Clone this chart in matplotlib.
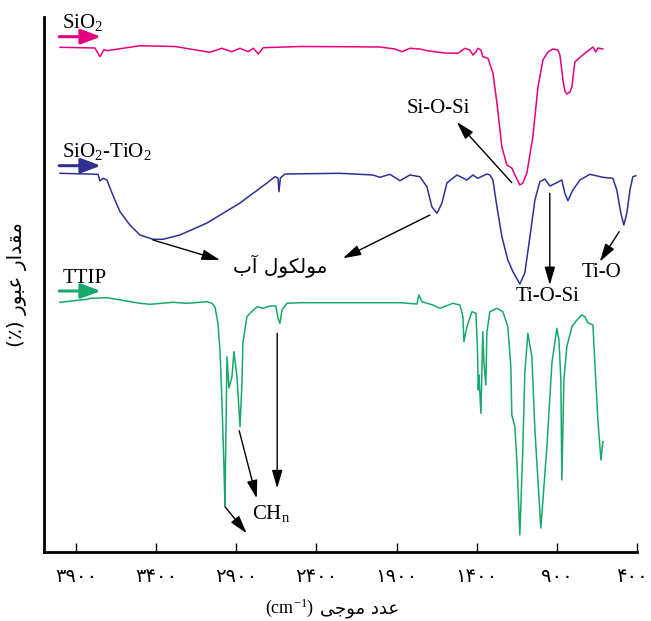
import matplotlib
matplotlib.use("Agg")
import matplotlib.pyplot as plt
import matplotlib.transforms as mtransforms

plt.rcParams['mathtext.fontset'] = 'custom'
plt.rcParams['mathtext.rm'] = 'Liberation Serif'
plt.rcParams['mathtext.it'] = 'Liberation Serif:italic'
plt.rcParams['mathtext.bf'] = 'Liberation Serif:bold'

# ---------------- data (wavenumber cm-1, relative transmittance) ----------------
sio2_wn = [4000, 3782, 3751, 3726, 3707, 3501, 3283, 3064, 2991, 2929, 2877, 2826, 2794, 2763, 2732,
           2503, 2254, 2004, 1910, 1867, 1817, 1755, 1711, 1599, 1517, 1474, 1443, 1424, 1405, 1393,
           1374, 1362, 1330, 1299, 1274, 1243, 1212, 1181, 1162, 1143, 1131, 1112, 1087, 1050, 1018,
           987, 956, 925, 894, 881, 862, 850, 838, 819, 806, 788, 738, 675, 657, 644, 613]
sio2_t = [504.7, 504, 495.3, 502.5, 501.3, 506.3, 505.5, 499.7, 503.7, 500.3, 503.7, 500.3, 503.7, 498, 504.3,
          505.5, 505.3, 505, 503, 500.3, 503.7, 503, 501.3, 499, 498.7, 503.7, 502, 497, 500, 503.7,
          502, 495.3, 493.7, 479, 449, 405, 387, 384, 377, 371, 367, 369, 379, 415, 465,
          492, 500, 503, 502, 497, 472, 461, 458, 460, 465, 490, 497, 505, 500, 504, 503]

mix_wn = [4000, 3763, 3751, 3732, 3707, 3676, 3626, 3564, 3501, 3420, 3358, 3252, 3083, 2877, 2709,
          2659, 2640, 2634, 2625, 2597, 2254, 2048, 2004, 1942, 1879, 1817, 1755, 1711, 1680, 1648,
          1617, 1586, 1524, 1461, 1424, 1393, 1337, 1318, 1299, 1274, 1243, 1206, 1174, 1131, 1100,
          1068, 1037, 1006, 975, 944, 900, 869, 850, 831, 800, 756, 694, 613, 551, 526, 501, 482,
          463, 444, 426, 407]
mix_t = [378.7, 377.7, 371, 373.7, 372, 359, 340.3, 327, 317, 312.7, 312.7, 317, 329, 349, 369,
         375.3, 374, 360.3, 374, 378, 378.7, 377, 374.7, 377.7, 371.3, 377, 375.3, 365.3, 345.3, 338.7,
         349, 369, 377, 372, 377, 373.7, 378, 377, 372, 345.3, 315.3, 292, 280.3, 268, 279,
         315.3, 352, 370.3, 373, 366, 369.3, 372, 358.7, 351.3, 362, 372, 377.7, 374.7, 373.7, 362, 339, 327,
         339, 362, 375.3, 376.3]

ttip_wn = [4000, 3832, 3813, 3707, 3501, 3439, 3295, 3208, 3083, 3052, 3033, 3015, 3002, 2990, 2977,
           2971, 2965, 2958, 2946, 2927, 2915, 2896, 2877, 2865, 2859, 2834, 2815, 2771, 2734, 2690,
           2653, 2640, 2628, 2615, 2584, 2503, 1879, 1773, 1761, 1742, 1673, 1630, 1549, 1505, 1486,
           1480, 1461, 1430, 1405, 1396, 1390, 1386, 1374, 1362, 1355, 1343, 1337, 1318, 1274, 1237,
           1206, 1187, 1181, 1162, 1149, 1131, 1112, 1100, 1081, 1056, 1037, 1000, 962, 931, 900,
           887, 875, 869, 856, 838, 806, 775, 744, 725, 707, 675, 663, 644, 625, 613]
ttip_t = [249.7, 252.7, 253.7, 254.3, 248.7, 247.7, 249.7, 248.7, 250.3, 248.7, 245, 229, 202, 152, 85,
          46.3, 119, 195.3, 164, 175.3, 200.3, 175.3, 125.3, 169, 209, 235.3, 238.7, 245.3, 243.7, 246,
          246, 233.7, 228.7, 242, 248.7, 249.3, 249.3, 248, 257, 250.3, 247, 243.7, 248.7, 247, 235.3,
          210.3, 225.3, 240.3, 238.7, 205.3, 162, 177, 138.7, 220.3, 189, 167, 219, 240.3, 243.7, 240.3,
          225.3, 185.3, 137, 125.3, 89, 17, 105.3, 179, 218.7, 195.3, 122, 24, 105.3, 189, 223.7,
          212, 172, 72, 172, 205.3, 225.3, 232, 237, 235.3, 229.3, 227, 189, 132, 92, 110.3]

tick_values = [3900, 3400, 2900, 2400, 1900, 1400, 900, 400]
tick_labels = ['۳۹۰۰', '۳۴۰۰', '۲۹۰۰', '۲۴۰۰', '۱۹۰۰', '۱۴۰۰', '۹۰۰', '۴۰۰']

series_names = ['SiO$_2$', 'SiO$_2$-TiO$_2$', 'TTIP']
series_colors = ['#e6007e', '#2e3192', '#17a86c']

# Persian texts (presentation forms, visual order)
water_label = '\uFE8F\uFE81 \uFEDD\uFEEE\uFB91\uFEDF\uFEEE\uFEE3'          # مولکول آب
xlabel_fa = '\uFBFD\uFE9F\uFEEE\uFEE3 \uFEA9\uFEAA\uFECB'                   # عدد موجی
ylabel_fa = '(\u066A) \uFEAD\uFEEE\uFE92\uFECB \uFEAD\uFE8D\uFEAA\uFED8\uFEE3'  # مقدار عبور (٪)

# ---------------- figure ----------------
fig = plt.figure(figsize=(6.51, 6.21), dpi=100)
ax = fig.add_axes([44/651, 69/621, 593/651, 535/621])
ax.set_xlim(4100, 400)
ax.set_ylim(0, 535)

for wn, t, c in zip([sio2_wn, mix_wn, ttip_wn], [sio2_t, mix_t, ttip_t], series_colors):
    ax.plot(wn, t, color=c, lw=1.1, solid_joinstyle='round')

for s in ['top', 'right']:
    ax.spines[s].set_visible(False)
for s in ['left', 'bottom']:
    ax.spines[s].set_linewidth(2.0)
ax.set_yticks([])
ax.set_xticks(tick_values)
ax.set_xticklabels(tick_labels, fontfamily='DejaVu Sans', fontsize=14)
ax.tick_params(axis='x', direction='in', length=6.5, width=1, pad=11)
# keep the last label inside the canvas
last = ax.get_xticklabels()[-1]
last.set_transform(last.get_transform() + mtransforms.ScaledTranslation(-5/100, 0, fig.dpi_scale_trans))

serif = 'Liberation Serif'
# series labels with coloured arrows
label_pos = [(3985, 524), (3985, 395.3), (3985, 268.7)]
arrow_y = [515.3, 386.3, 261]
for name, c, (lx, ly), ay in zip(series_names, series_colors, label_pos, arrow_y):
    ax.text(lx, ly, name, fontfamily=serif, fontsize=15, ha='left', va='baseline')
    ax.annotate('', xy=(3745, ay), xytext=(4005, ay),
                arrowprops=dict(arrowstyle='-|>,head_length=1.2,head_width=0.45',
                                color=c, lw=2.2, mutation_scale=10, shrinkA=0, shrinkB=0))

blk = dict(arrowstyle='-|>,head_length=1.1,head_width=0.32', color='black', lw=1.0,
           mutation_scale=10, shrinkA=0, shrinkB=0)

def arrow(x0, y0, x1, y1):
    ax.annotate('', xy=(x1, y1), xytext=(x0, y0), arrowprops=blk)

ax.text(1642, 443, 'Si-O-Si', fontfamily=serif, fontsize=15, ha='center', va='center')
arrow(1181, 369.3, 1524, 430)
ax.text(956, 255.3, 'Ti-O-Si', fontfamily=serif, fontsize=15, ha='center', va='center')
arrow(944, 358.7, 944, 267)
ax.text(621, 279.3, 'Ti-O', fontfamily=serif, fontsize=15, ha='center', va='center')
arrow(511, 320.3, 632, 290.3)

ax.text(2628, 285.3, water_label, fontfamily='DejaVu Sans', fontsize=14.5, ha='center', va='center')
arrow(3420, 312, 3002, 292)
arrow(1692, 337, 2235, 293.7)

ax.text(2680, 39, 'CH$_\\mathrm{n}$', fontfamily=serif, fontsize=15, ha='center', va='center')
arrow(2882, 121.3, 2773, 53.7)
arrow(2645, 218.7, 2645, 63.7)
arrow(2971, 45.3, 2836, 18.7)

# axis titles
fig.text(314/651, 1 - 608/621, '(cm$^{-1}$)', fontfamily=serif, fontsize=13, ha='right', va='center')
fig.text(320/651, 1 - 610/621, xlabel_fa, fontfamily='DejaVu Sans', fontsize=13, ha='left', va='center')
fig.text(17/651, 1 - 285/621, ylabel_fa, fontfamily='DejaVu Sans', fontsize=14.5, rotation=90,
         ha='center', va='center')

fig.savefig('out.png', dpi=100)
